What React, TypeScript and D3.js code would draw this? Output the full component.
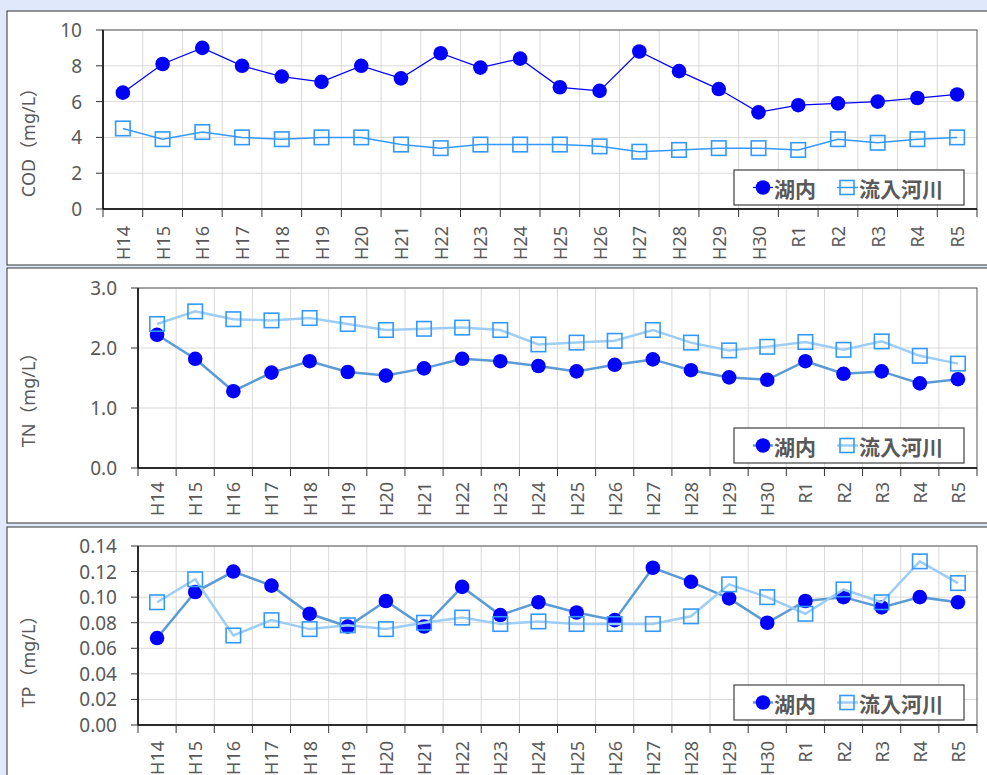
import * as d3 from "d3";
import React from "react";

const categories = [
  "H14", "H15", "H16", "H17", "H18", "H19", "H20", "H21", "H22", "H23", "H24",
  "H25", "H26", "H27", "H28", "H29", "H30", "R1", "R2", "R3", "R4", "R5",
];

const seriesNames = ["湖内", "流入河川"];

// COD (mg/L)
const codLake = [6.5, 8.1, 9.0, 8.0, 7.4, 7.1, 8.0, 7.3, 8.7, 7.9, 8.4, 6.8, 6.6, 8.8, 7.7, 6.7, 5.4, 5.8, 5.9, 6.0, 6.2, 6.4];
const codRiver = [4.5, 3.9, 4.3, 4.0, 3.9, 4.0, 4.0, 3.6, 3.4, 3.6, 3.6, 3.6, 3.5, 3.2, 3.3, 3.4, 3.4, 3.3, 3.9, 3.7, 3.9, 4.0];
const codTicks = [0, 2, 4, 6, 8, 10];

// TN (mg/L)
const tnLake = [2.22, 1.82, 1.28, 1.59, 1.78, 1.6, 1.54, 1.66, 1.82, 1.78, 1.7, 1.61, 1.72, 1.81, 1.63, 1.51, 1.47, 1.78, 1.57, 1.61, 1.41, 1.48];
const tnRiver = [2.4, 2.61, 2.48, 2.46, 2.5, 2.4, 2.3, 2.32, 2.34, 2.3, 2.06, 2.09, 2.12, 2.3, 2.09, 1.96, 2.02, 2.1, 1.97, 2.11, 1.87, 1.74];
const tnTicks = [0, 1, 2, 3];

// TP (mg/L)
const tpLake = [0.068, 0.104, 0.12, 0.109, 0.087, 0.077, 0.097, 0.077, 0.108, 0.086, 0.096, 0.088, 0.082, 0.123, 0.112, 0.099, 0.08, 0.097, 0.1, 0.092, 0.1, 0.096];
const tpRiver = [0.096, 0.114, 0.07, 0.082, 0.075, 0.078, 0.075, 0.08, 0.084, 0.079, 0.081, 0.079, 0.079, 0.079, 0.085, 0.11, 0.1, 0.087, 0.106, 0.096, 0.128, 0.111];
const tpTicks = [0, 0.02, 0.04, 0.06, 0.08, 0.1, 0.12, 0.14];

const FONT = "'Noto Sans', 'Noto Sans CJK JP', sans-serif";
const CJK = "'Noto Sans CJK JP', sans-serif";
const TEXT = "#595959";
const MARKER = "#0000ff";
const SQUARE = "#3399ff";

const panels = [
  {
    title: "COD（mg/L）", lake: codLake, river: codRiver, ticks: codTicks, fmt: d3.format("d"),
    box: { y: 11, h: 254 }, plot: { l: 103, t: 30, r: 977, b: 209 }, legendY: 170, labelGap: 17,
    lakeLine: "#0000ff", lakeW: 1.25, riverLine: "#3399ff", riverW: 1.5,
  },
  {
    title: "TN（mg/L）", lake: tnLake, river: tnRiver, ticks: tnTicks, fmt: d3.format(".1f"),
    box: { y: 268, h: 255 }, plot: { l: 138, t: 288, r: 977, b: 468 }, legendY: 428, labelGap: 14,
    lakeLine: "#5b9bd5", lakeW: 2.5, riverLine: "#9dcdf5", riverW: 2.5,
  },
  {
    title: "TP（mg/L）", lake: tpLake, river: tpRiver, ticks: tpTicks, fmt: d3.format(".2f"),
    box: { y: 527, h: 260 }, plot: { l: 138, t: 546, r: 977, b: 725 }, legendY: 685, labelGap: 16,
    lakeLine: "#5b9bd5", lakeW: 2.5, riverLine: "#9dcdf5", riverW: 2.5,
  },
];

function Panel({ p }: { p: any }) {
  const { l, t, r, b } = p.plot;
  const x = d3.scaleBand<string>().domain(categories).range([l, r]).padding(0);
  const y = d3.scaleLinear().domain([p.ticks[0], p.ticks[p.ticks.length - 1]]).range([b, t]);
  const cx = (c: string) => (x(c) as number) + x.bandwidth() / 2;
  const line = d3.line<number>().x((_, i) => cx(categories[i])).y((d) => y(d));
  const boundaries = categories.map((c) => x(c) as number).concat([r]);
  const ly = p.legendY + 17.5;
  const sq = 14.5;

  return (
    <g>
      <rect x={7} y={p.box.y} width={990} height={p.box.h} fill="#fff" stroke="#333" strokeWidth={1} />
      {/* grid */}
      {p.ticks.slice(1).map((tk: number) => (
        <line key={"h" + tk} x1={l} x2={r} y1={y(tk)} y2={y(tk)} stroke="#d9d9d9" />
      ))}
      {boundaries.slice(1, -1).map((bx: number, i: number) => (
        <line key={"v" + i} x1={bx} x2={bx} y1={t} y2={b} stroke="#d9d9d9" />
      ))}
      <rect x={l} y={t} width={r - l} height={b - t} fill="none" stroke="#595959" strokeWidth={1} />
      {/* axes */}
      <line x1={l} x2={l} y1={t} y2={b} stroke="#000" strokeWidth={1.5} />
      <line x1={l} x2={r} y1={b} y2={b} stroke="#000" strokeWidth={1.5} />
      {p.ticks.map((tk: number) => (
        <g key={"yt" + tk}>
          <line x1={l - 7} x2={l} y1={y(tk)} y2={y(tk)} stroke="#333" />
          <text x={l - 21} y={y(tk)} textAnchor="end" dominantBaseline="central" fontSize={19} fill={TEXT}>
            {p.fmt(tk)}
          </text>
        </g>
      ))}
      {boundaries.map((bx: number, i: number) => (
        <line key={"xt" + i} x1={bx} x2={bx} y1={b} y2={b + 8} stroke="#333" />
      ))}
      {categories.map((c) => (
        <text
          key={"xl" + c}
          transform={`translate(${cx(c)},${b + p.labelGap}) rotate(-90)`}
          textAnchor="end"
          dominantBaseline="central"
          fontSize={18}
          fill={TEXT}
        >
          {c}
        </text>
      ))}
      <text
        transform={`translate(28,${p.box.y + p.box.h / 2}) rotate(-90)`}
        textAnchor="middle"
        dominantBaseline="central"
        fontSize={18}
        fill={TEXT}
      >
        {p.title}
      </text>
      {/* series */}
      <path d={line(p.lake) as string} fill="none" stroke={p.lakeLine} strokeWidth={p.lakeW} />
      {p.lake.map((v: number, i: number) => (
        <circle key={"c" + i} cx={cx(categories[i])} cy={y(v)} r={7.3} fill={MARKER} />
      ))}
      <path d={line(p.river) as string} fill="none" stroke={p.riverLine} strokeWidth={p.riverW} />
      {p.river.map((v: number, i: number) => (
        <rect key={"s" + i} x={cx(categories[i]) - sq / 2} y={y(v) - sq / 2} width={sq} height={sq}
          fill="none" stroke={SQUARE} strokeWidth={1.6} />
      ))}
      {/* legend */}
      <rect x={734} y={p.legendY} width={230} height={35} fill="#fff" stroke="#404040" strokeWidth={1.2} />
      <line x1={753} x2={773} y1={ly} y2={ly} stroke={p.lakeLine} strokeWidth={p.lakeW} />
      <circle cx={763} cy={ly} r={7.3} fill={MARKER} />
      <text x={774} y={ly} dominantBaseline="central" fontSize={21} fontWeight="bold" fill={TEXT} fontFamily={CJK}>
        {seriesNames[0]}
      </text>
      <line x1={837} x2={858} y1={ly} y2={ly} stroke={p.riverLine} strokeWidth={p.riverW} />
      <rect x={847 - 7} y={ly - 7} width={14} height={14} fill="none" stroke={SQUARE} strokeWidth={1.6} />
      <text x={859} y={ly} dominantBaseline="central" fontSize={21} fontWeight="bold" fill={TEXT} fontFamily={CJK}>
        {seriesNames[1]}
      </text>
    </g>
  );
}

export default function App() {
  return (
    <svg
      width={987}
      height={775}
      style={{ position: "absolute", left: 0, top: 0, fontFamily: FONT }}
    >
      <rect x={0} y={0} width={987} height={775} fill="#dfe9fb" />
      {panels.map((p) => (
        <Panel key={p.title} p={p} />
      ))}
    </svg>
  );
}
